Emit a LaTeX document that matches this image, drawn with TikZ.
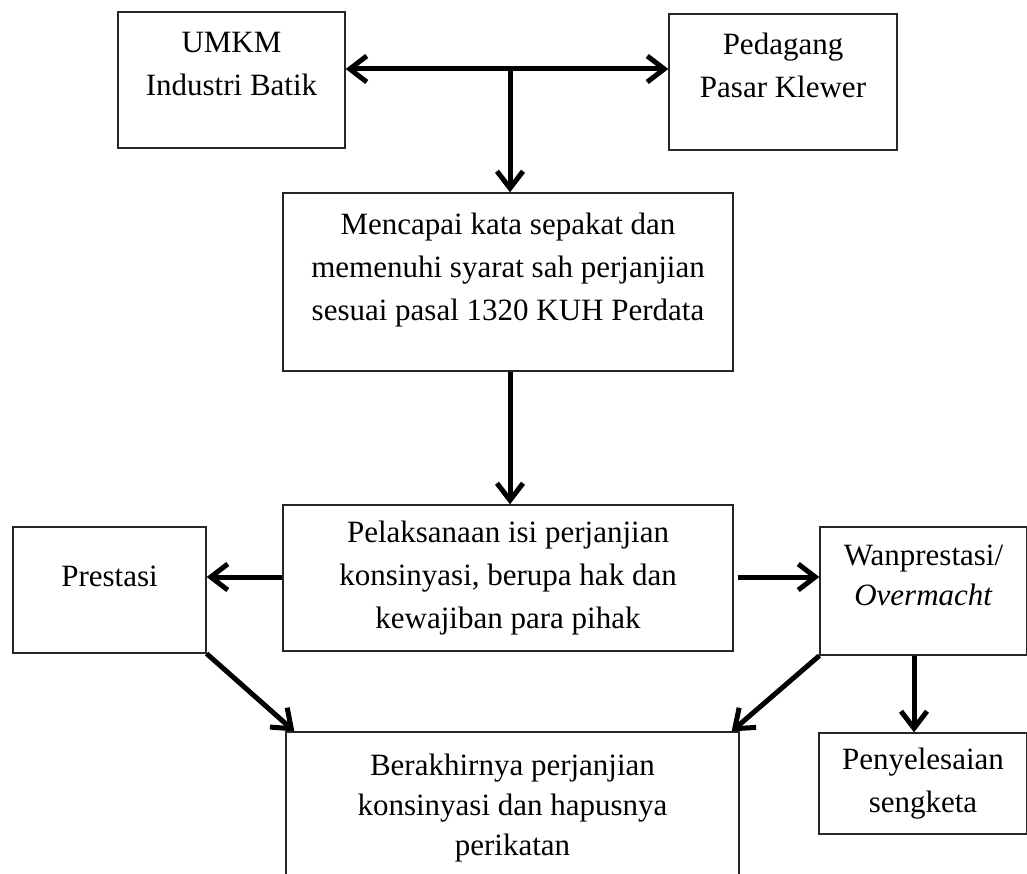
\documentclass[tikz,border=0pt]{standalone}
\usepackage{fontspec}
\setmainfont{Liberation Serif}
\usetikzlibrary{arrows.meta}
\newcommand{\bx}{\fontsize{31}{43}\selectfont}

\begin{document}
\begin{tikzpicture}[x=1pt,y=-1pt,
   kotak/.style={draw=black!85,line width=1.3pt,align=center,inner sep=0pt,font=\bx},
   panah/.style={line width=5pt,>={Straight Barb[length=17pt,width=26pt]},->}]
     \useasboundingbox (0,0) rectangle (1027,874);
     \node[kotak,minimum width=227,minimum height=136] (umkm) at (231.5,80) {UMKM\\Industri Batik\\[-10pt]~};
     \node[kotak,minimum width=228,minimum height=136] (pedagang) at (783,82) {Pedagang\\Pasar Klewer\\[-10pt]~};
     \node[kotak,minimum width=450,minimum height=178] (sepakat) at (508,282)
      {Mencapai kata sepakat dan\\memenuhi syarat sah perjanjian\\sesuai pasal 1320 KUH Perdata\\[-12pt]~};
     \node[kotak,minimum width=450,minimum height=146] (laksana) at (508,578)
      {Pelaksanaan isi perjanjian\\konsinyasi, berupa hak dan\\kewajiban para pihak};
     \node[kotak,minimum width=193,minimum height=126] (prestasi) at (109.5,590) {Prestasi\\[-16pt]~};
     \node[kotak,minimum width=207,minimum height=128] (wan) at (923.5,591) {Wanprestasi/\\[-3pt]\textit{Overmacht}\\[-12pt]~};
     \node[kotak,minimum width=208,minimum height=101] (sengketa) at (923,783.5) {Penyelesaian\\sengketa};
     \node[kotak,minimum width=453,minimum height=188] (akhir) at (512.5,826)
      {Berakhirnya perjanjian\\[-3pt]konsinyasi dan hapusnya\\[-3pt]perikatan\\~};
     \coordinate (cabang) at (510,69);
     \draw[panah,<->] (umkm.east |- cabang) -- (pedagang.west |- cabang);
     \draw[panah] (cabang) -- (sepakat.north -| cabang);
     \draw[panah] (sepakat.south -| cabang) -- (laksana.north -| cabang);
     \draw[panah] (laksana.west |- 0,577) -- (prestasi.east |- 0,577);
     \draw[panah] ([xshift=4pt]laksana.east |- 0,577) -- (wan.west |- 0,577);
     \draw[panah] (prestasi.south east) -- ([xshift=9pt]akhir.north west);
     \draw[panah] (wan.south west) -- ([xshift=-8pt]akhir.north east);
     \draw[panah] (wan.south -| 914,0) -- (sengketa.north -| 914,0);
    \end{tikzpicture}
\end{document}
